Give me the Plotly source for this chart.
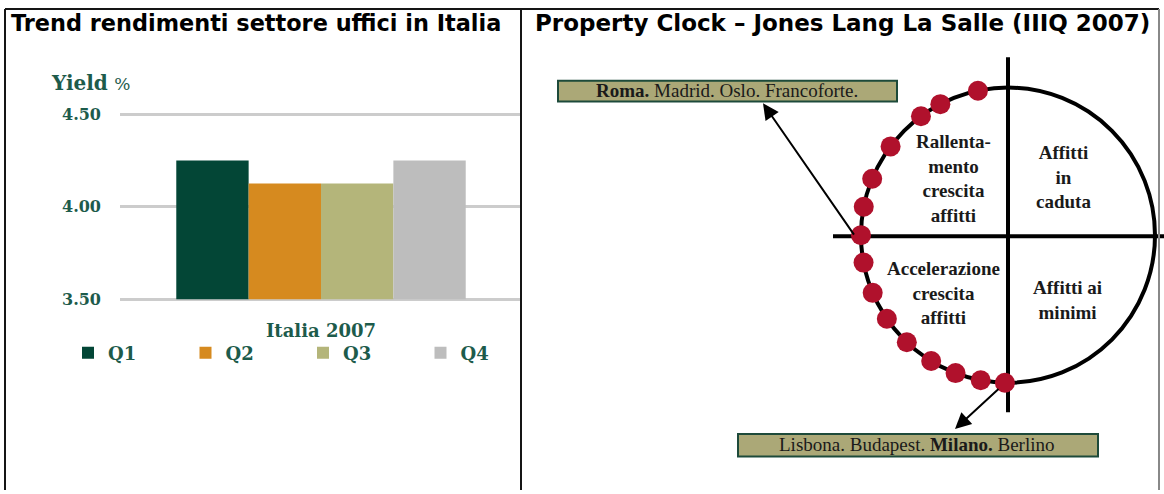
import math
import plotly.graph_objects as go

# ---------------- data ----------------
quarters = ["Q1", "Q2", "Q3", "Q4"]
yields = [4.25, 4.125, 4.125, 4.25]
bar_colors = ["#034636", "#d68a1f", "#b4b57a", "#bdbdbd"]
category = ["Italia 2007"]
y_tick_vals = [3.5, 4.0, 4.5]
y_tick_text = ["3.50", "4.00", "4.50"]
y_base = 3.5

# property clock: positions of the dots on the clock (degrees, counter-clockwise from 3 o'clock)
clock_angles = [101.8, 117.4, 126.3, 143.0, 157.5, 168.9, 180.0, 190.7,
                203.0, 214.5, 226.5, 238.5, 249.1, 259.3, 268.8]
quadrant_texts = ["Rallenta-<br>mento<br>crescita<br>affitti",
                  "Affitti<br>in<br>caduta",
                  "Accelerazione<br>crescita<br>affitti",
                  "Affitti ai<br>minimi"]
city_top = "<b>Roma.</b> Madrid. Oslo. Francoforte."
city_bottom = "Lisbona. Budapest. <b>Milano.</b> Berlino"
titles = ["Trend rendimenti settore uffici in Italia",
          "Property Clock \u2013 Jones Lang La Salle (IIIQ 2007)"]

# ---------------- styles ----------------
W, H = 1164, 494
TEAL = "#1d5b4b"
SERIF = "DejaVu Serif"
TSERIF = "Liberation Serif"
SANS = "DejaVu Sans"
DOT = "#b0112c"
BOXFILL = "#aba877"
BOXLINE = "#1d4a3a"


def px(x):
    return x / W


def py(y):
    return 1 - y / H


fig = go.Figure()

# left: bars (drawn from the 3.50 baseline of the chart)
for q, v, c in zip(quarters, yields, bar_colors):
    fig.add_trace(go.Bar(x=category, y=[v - y_base], base=y_base, name=q,
                         marker=dict(color=c, line=dict(width=0)),
                         xaxis="x", yaxis="y", hoverinfo="skip"))

# right: clock dots
dx = [math.cos(math.radians(a)) for a in clock_angles]
dy = [math.sin(math.radians(a)) for a in clock_angles]
fig.add_trace(go.Scatter(x=dx, y=dy, mode="markers", xaxis="x2", yaxis="y2",
                         marker=dict(size=20, color=DOT, line=dict(width=0)),
                         showlegend=False, hoverinfo="skip"))

# clock geometry (unit circle -> pixel mapping via axis ranges)
cx_px, cy_px, rx_px, ry_px = 1008, 235, 147, 150
x2_range = [(530 - cx_px) / rx_px, (W - cx_px) / rx_px]
y2_range = [(cy_px - H) / ry_px, cy_px / ry_px]


def ux(x):
    return (x - cx_px) / rx_px


def uy(y):
    return (cy_px - y) / ry_px


# left y axis: 3.50 at 300px, 4.50 at 112px, padded a little so the edge gridlines show
pad = 0.03
ypx_per = (300 - 112) / 1.0
y_range = [3.5 - pad, 4.5 + pad]
y_domain = [py(300 + pad * ypx_per), py(112 - pad * ypx_per)]

shapes = []
# frame
frame = dict(type="line", xref="paper", yref="paper", line=dict(color="#151515", width=2))
shapes.append(dict(frame, x0=px(5), x1=px(1159), y0=py(5), y1=py(5)))
shapes.append(dict(frame, x0=px(5), x1=px(5), y0=0, y1=py(5)))
shapes.append(dict(frame, x0=px(1159), x1=px(1159), y0=0, y1=py(5), line=dict(color="#888888", width=2)))
shapes.append(dict(frame, x0=px(521), x1=px(521), y0=0, y1=py(5)))

# clock circle and cross
shapes.append(dict(type="circle", xref="x2", yref="y2", x0=-1, x1=1, y0=-1, y1=1,
                   line=dict(color="black", width=4), layer="below"))
shapes.append(dict(type="line", xref="x2", yref="y2", x0=ux(833), x1=ux(1164), y0=uy(236), y1=uy(236),
                   line=dict(color="black", width=4), layer="below"))
shapes.append(dict(type="line", xref="x2", yref="y2", x0=0, x1=0, y0=uy(415), y1=uy(54),
                   line=dict(color="black", width=4), layer="below"))
# city boxes
shapes.append(dict(type="rect", xref="x2", yref="y2", x0=ux(558), x1=ux(897), y0=uy(99), y1=uy(78),
                   fillcolor=BOXFILL, line=dict(color=BOXLINE, width=2), layer="below"))
shapes.append(dict(type="rect", xref="x2", yref="y2", x0=ux(738), x1=ux(1098), y0=uy(460), y1=uy(437),
                   fillcolor=BOXFILL, line=dict(color=BOXLINE, width=2), layer="below"))

annotations = []
# titles
for t, tx, fs in zip(titles, [256, 842], [22.4, 23]):
    annotations.append(dict(text="<b>%s</b>" % t, xref="paper", yref="paper", x=px(tx), y=py(19),
                            xanchor="center", yanchor="middle", showarrow=False,
                            font=dict(family=SANS, size=fs, color="black")))
# y axis title
annotations.append(dict(text="<b>Yield</b> <span style='font-size:17px'>%</span>", xref="paper",
                        yref="paper", x=px(49), y=py(80), xanchor="left", yanchor="middle",
                        showarrow=False, font=dict(family=SERIF, size=20, color=TEAL)))
# quadrant labels
quad_pos = [(953, 177), (1063, 176), (943, 294), (1067, 301)]
for t, (qx, qy) in zip(quadrant_texts, quad_pos):
    annotations.append(dict(text="<b>%s</b>" % t, xref="x2", yref="y2", x=ux(qx), y=uy(qy),
                            showarrow=False, xanchor="center", yanchor="middle",
                            font=dict(family=TSERIF, size=19, color="#1a1a1a")))
# city box texts
annotations.append(dict(text=city_top, xref="x2", yref="y2", x=ux(727), y=uy(88), showarrow=False,
                        xanchor="center", yanchor="middle",
                        font=dict(family=TSERIF, size=19, color="#1a1a1a")))
annotations.append(dict(text=city_bottom, xref="x2", yref="y2", x=ux(917), y=uy(448), showarrow=False,
                        xanchor="center", yanchor="middle",
                        font=dict(family=TSERIF, size=19, color="#1a1a1a")))
# arrows
annotations.append(dict(text="", xref="x2", yref="y2", axref="x2", ayref="y2",
                        x=ux(763), y=uy(101), ax=ux(855), ay=uy(236), showarrow=True,
                        arrowhead=2, arrowsize=1.6, arrowwidth=2, arrowcolor="black"))
annotations.append(dict(text="", xref="x2", yref="y2", axref="x2", ayref="y2",
                        x=ux(955), y=uy(432), ax=ux(1000), ay=uy(390), showarrow=True,
                        arrowhead=2, arrowsize=1.6, arrowwidth=2, arrowcolor="black"))

fig.update_layout(
    width=W, height=H,
    margin=dict(l=0, r=0, t=0, b=0),
    paper_bgcolor="white", plot_bgcolor="rgba(0,0,0,0)",
    barmode="group", bargap=0.28, bargroupgap=0,
    showlegend=True,
    legend=dict(orientation="h", x=px(68), y=py(336), xanchor="left", yanchor="top",
                entrywidth=72.5, entrywidthmode="pixels", bgcolor="rgba(0,0,0,0)",
                font=dict(family=SERIF, size=18, color=TEAL, weight="bold"), traceorder="normal"),
    xaxis=dict(domain=[px(120), px(522)], type="category", showgrid=False, zeroline=False,
               showline=False, ticks="", ticklabelstandoff=13, fixedrange=True,
               tickfont=dict(family=SERIF, size=18, color=TEAL, weight="bold")),
    yaxis=dict(domain=y_domain, range=y_range, tickvals=y_tick_vals,
               ticktext=y_tick_text, showgrid=True, gridcolor="#cccccc", gridwidth=3,
               zeroline=False, showline=False, ticks="", ticklabelstandoff=18, fixedrange=True,
               tickfont=dict(family=SERIF, size=16, color=TEAL, weight="bold")),
    xaxis2=dict(domain=[px(530), 1.0], range=x2_range, visible=False, fixedrange=True),
    yaxis2=dict(domain=[0, 1], range=y2_range, visible=False, fixedrange=True),
    shapes=shapes, annotations=annotations,
)

fig.write_html("out.html", config={"displayModeBar": False},
               post_script="document.body.style.margin='0';")
